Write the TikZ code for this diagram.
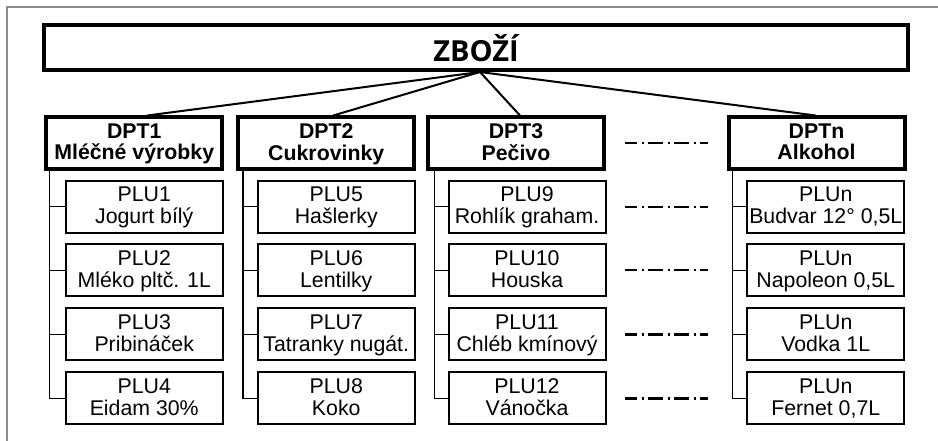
\documentclass[tikz,border=0pt]{standalone}
\usepackage{fontspec}
\setmainfont{Liberation Sans}
\newfontfamily\titlefont{Open Sans}
\usetikzlibrary{calc}
\definecolor{framegray}{HTML}{8C8C8C}
\begin{document}
\begin{tikzpicture}[x=1pt,y=-1pt,
  title/.style={draw, line width=4pt, minimum width=864pt, minimum height=45.5pt, inner sep=0pt, font=\titlefont\bfseries\fontsize{29}{32}\selectfont},
  dept/.style={draw, line width=4pt, minimum width=176pt, minimum height=51.5pt, inner sep=0pt, align=center, text depth=3pt, font=\bfseries\fontsize{21.3}{21.8}\selectfont},
  plu/.style={draw, line width=2pt, minimum width=157pt, minimum height=52pt, inner sep=0pt, align=center, text depth=3pt, font=\fontsize{21.3}{21.8}\selectfont},
  link/.style={line width=2pt},
  tree/.style={line width=1.6pt},
  more/.style={line width=2.2pt, dash pattern=on 15pt off 4.5pt on 2pt off 4.5pt, dash phase=3pt},
  frameline/.style={draw=framegray, line width=2pt}
]
\fill[white] (0,0) rectangle (938,441);
\useasboundingbox (0,0) rectangle (938,441);
\draw[frameline] (938,7) -- (7,7) -- (7,441);

\node[title] (z) at (476,47.75) {ZBOŽÍ};
\coordinate (hub) at (480,72);

\node[dept] (d1) at (134.25,143.25) {DPT1\\Mléčné výrobky};
\node[dept] (d2) at (326.25,143.25) {DPT2\\Cukrovinky};
\node[dept] (d3) at (516,143.25) {DPT3\\Pečivo};
\node[dept] (dn) at (816.5,143.25) {DPTn\\Alkohol};

\draw[link] (hub) -- ($(d1.north)+(13,0)$);
\draw[link] (hub) -- ($(d2.north)+(7,0)$);
\draw[link] (hub) -- ($(d3.north)+(4,0)$);
\draw[link] (hub) -- ($(dn.north)+(-1,0)$);

% column 1
\node[plu] (p1) at (144.25,206.7) {PLU1\\Jogurt bílý};
\node[plu] (p2) at (144.25,270.3) {PLU2\\Mléko pltč. 1L};
\node[plu] (p3) at (144.25,334.4) {PLU3\\Pribináček};
\node[plu] (p4) at (144.25,398.4) {PLU4\\Eidam 30\%};
% column 2
\node[plu] (p5) at (336.25,206.7) {PLU5\\Hašlerky};
\node[plu] (p6) at (336.25,270.3) {PLU6\\Lentilky};
\node[plu] (p7) at (336.25,334.4) {PLU7\\Tatranky nugát.};
\node[plu] (p8) at (336.25,398.4) {PLU8\\Koko};
% column 3
\node[plu] (p9) at (527,206.7) {PLU9\\Rohlík graham.};
\node[plu] (p10) at (527,270.3) {PLU10\\Houska};
\node[plu] (p11) at (527,334.4) {PLU11\\Chléb kmínový};
\node[plu] (p12) at (527,398.4) {PLU12\\Vánočka};
% column n
\node[plu] (p13) at (825.75,206.7) {PLUn\\Budvar 12° 0,5L};
\node[plu] (p14) at (825.75,270.3) {PLUn\\Napoleon 0,5L};
\node[plu] (p15) at (825.75,334.4) {PLUn\\Vodka 1L};
\node[plu] (p16) at (825.75,398.4) {PLUn\\Fernet 0,7L};

% tree lines
\coordinate (t1) at (49.5,171);
\coordinate (t2) at (243,171);
\coordinate (t3) at (434.5,171);
\coordinate (tn) at (732.5,171);
\draw[tree] (t1) |- (p4.west);
\draw[tree] (t1 |- p1.west) -- (p1.west);
\draw[tree] (t1 |- p2.west) -- (p2.west);
\draw[tree] (t1 |- p3.west) -- (p3.west);
\draw[tree] (t2) |- (p8.west);
\draw[tree] (t2 |- p5.west) -- (p5.west);
\draw[tree] (t2 |- p6.west) -- (p6.west);
\draw[tree] (t2 |- p7.west) -- (p7.west);
\draw[tree] (t3) |- (p12.west);
\draw[tree] (t3 |- p9.west) -- (p9.west);
\draw[tree] (t3 |- p10.west) -- (p10.west);
\draw[tree] (t3 |- p11.west) -- (p11.west);
\draw[tree] (tn) |- (p16.west);
\draw[tree] (tn |- p13.west) -- (p13.west);
\draw[tree] (tn |- p14.west) -- (p14.west);
\draw[tree] (tn |- p15.west) -- (p15.west);

% continuation marks
\draw[more] ($(d3.east)+(19,0)$) -- ($(dn.west)+(-19,0)$);
\draw[more] ($(p9.east)+(18.5,0)$) -- ($(p13.west)+(-38.5,0)$);
\draw[more] ($(p10.east)+(18.5,0)$) -- ($(p14.west)+(-38.5,0)$);
\draw[more] ($(p11.east)+(18.5,0)$) -- ($(p15.west)+(-38.5,0)$);
\draw[more] ($(p12.east)+(18.5,0)$) -- ($(p16.west)+(-38.5,0)$);
\end{tikzpicture}
\end{document}
